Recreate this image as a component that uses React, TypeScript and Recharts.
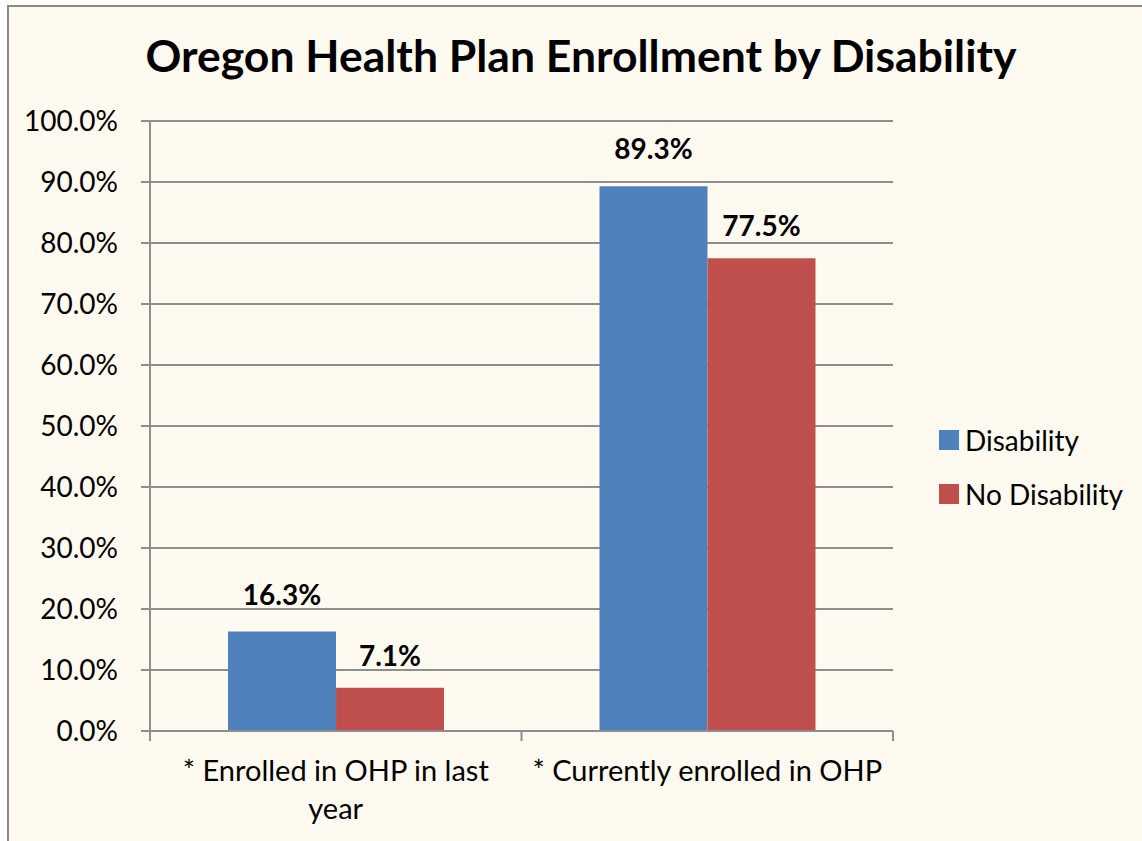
import { BarChart, Bar, XAxis, YAxis, CartesianGrid, LabelList } from "recharts";

const categories = ["* Enrolled in OHP in last\nyear", "* Currently enrolled in OHP"];
const disability = [16.3, 89.3];
const noDisability = [7.1, 77.5];
const yTicks = [0, 10, 20, 30, 40, 50, 60, 70, 80, 90, 100];
const seriesNames = ["Disability", "No Disability"];

const COLORS = { blue: "#4F81BD", red: "#C0504D", grid: "#8e8e8e", bg: "#FFFAEF" };
const FONT = "Lato, 'Open Sans', sans-serif";

const data = categories.map((name, i) => ({
  name,
  [seriesNames[0]]: disability[i],
  [seriesNames[1]]: noDisability[i],
}));

// plot area: 150..893 wide, two categories
const BAND = (893 - 150) / categories.length;

function CategoryTick(props: any) {
  const { x, y, payload, index } = props;
  const lines = String(payload.value).split("\n");
  const left = x - BAND / 2;
  const right = x + BAND / 2;
  return (
    <g>
      <line x1={left} y1={y} x2={left} y2={y + 10} stroke={COLORS.grid} strokeWidth={2} />
      {index === categories.length - 1 && (
        <line x1={right} y1={y} x2={right} y2={y + 10} stroke={COLORS.grid} strokeWidth={2} />
      )}
      <text x={x} y={y + 50} textAnchor="middle" fontSize={29} fontFamily={FONT} fill="#000">
        {lines.map((l, i) => (
          <tspan key={i} x={x} dy={i === 0 ? 0 : 38}>
            {l}
          </tspan>
        ))}
      </text>
    </g>
  );
}

function LegendBox() {
  const colors = [COLORS.blue, COLORS.red];
  return (
    <div style={{ position: "absolute", left: 939, top: 413, fontFamily: FONT, fontSize: 28, color: "#000" }}>
      {seriesNames.map((s, i) => (
        <div key={s} style={{ display: "flex", alignItems: "center", height: 54 }}>
          <span style={{ width: 20, height: 20, background: colors[i], marginRight: 6 }} />
          {s}
        </div>
      ))}
    </div>
  );
}

export default function App() {
  return (
    <div style={{ position: "fixed", left: 0, top: 0, width: 1142, height: 841, background: "#fff", overflow: "hidden" }}>
      <div
        style={{
          position: "absolute",
          left: 7,
          top: 5,
          width: 1160,
          height: 860,
          background: COLORS.bg,
          border: "2px solid #8a8a8a",
        }}
      />
      <div
        style={{
          position: "absolute",
          left: 0,
          width: 1162,
          top: 28,
          textAlign: "center",
          fontFamily: FONT,
          fontWeight: 700,
          fontSize: 44.5,
          color: "#000",
        }}
      >
        Oregon Health Plan Enrollment by Disability
      </div>
      <div style={{ position: "absolute", left: 0, top: 0 }}>
        <BarChart
          width={1142}
          height={841}
          data={data}
          margin={{ top: 121, right: 249, bottom: 80, left: 8 }}
          barCategoryGap="21%"
          barGap={0}
        >
          <CartesianGrid horizontal vertical={false} stroke={COLORS.grid} strokeWidth={2} />
          <YAxis
            width={142}
            domain={[0, 100]}
            ticks={yTicks}
            interval={0}
            tickFormatter={(v: number) => v.toFixed(1) + "%"}
            tick={{ fill: "#000", fontSize: 28, fontFamily: FONT }}
            tickSize={9}
            tickMargin={23}
            tickLine={{ stroke: COLORS.grid, strokeWidth: 2 }}
            axisLine={{ stroke: COLORS.grid, strokeWidth: 2 }}
          />
          <XAxis
            dataKey="name"
            height={30}
            tick={<CategoryTick />}
            tickLine={false}
            tickSize={0}
            tickMargin={0}
            interval={0}
            axisLine={{ stroke: COLORS.grid, strokeWidth: 2 }}
          />
          <Bar dataKey={seriesNames[0]} fill={COLORS.blue} isAnimationActive={false}>
            <LabelList
              dataKey={seriesNames[0]}
              position="top"
              offset={27}
              formatter={(v: any) => Number(v).toFixed(1) + "%"}
              style={{ fill: "#000", fontSize: 28, fontWeight: 700, fontFamily: FONT }}
            />
          </Bar>
          <Bar dataKey={seriesNames[1]} fill={COLORS.red} isAnimationActive={false}>
            <LabelList
              dataKey={seriesNames[1]}
              position="top"
              offset={22}
              formatter={(v: any) => Number(v).toFixed(1) + "%"}
              style={{ fill: "#000", fontSize: 28, fontWeight: 700, fontFamily: FONT }}
            />
          </Bar>
        </BarChart>
      </div>
      <LegendBox />
    </div>
  );
}
